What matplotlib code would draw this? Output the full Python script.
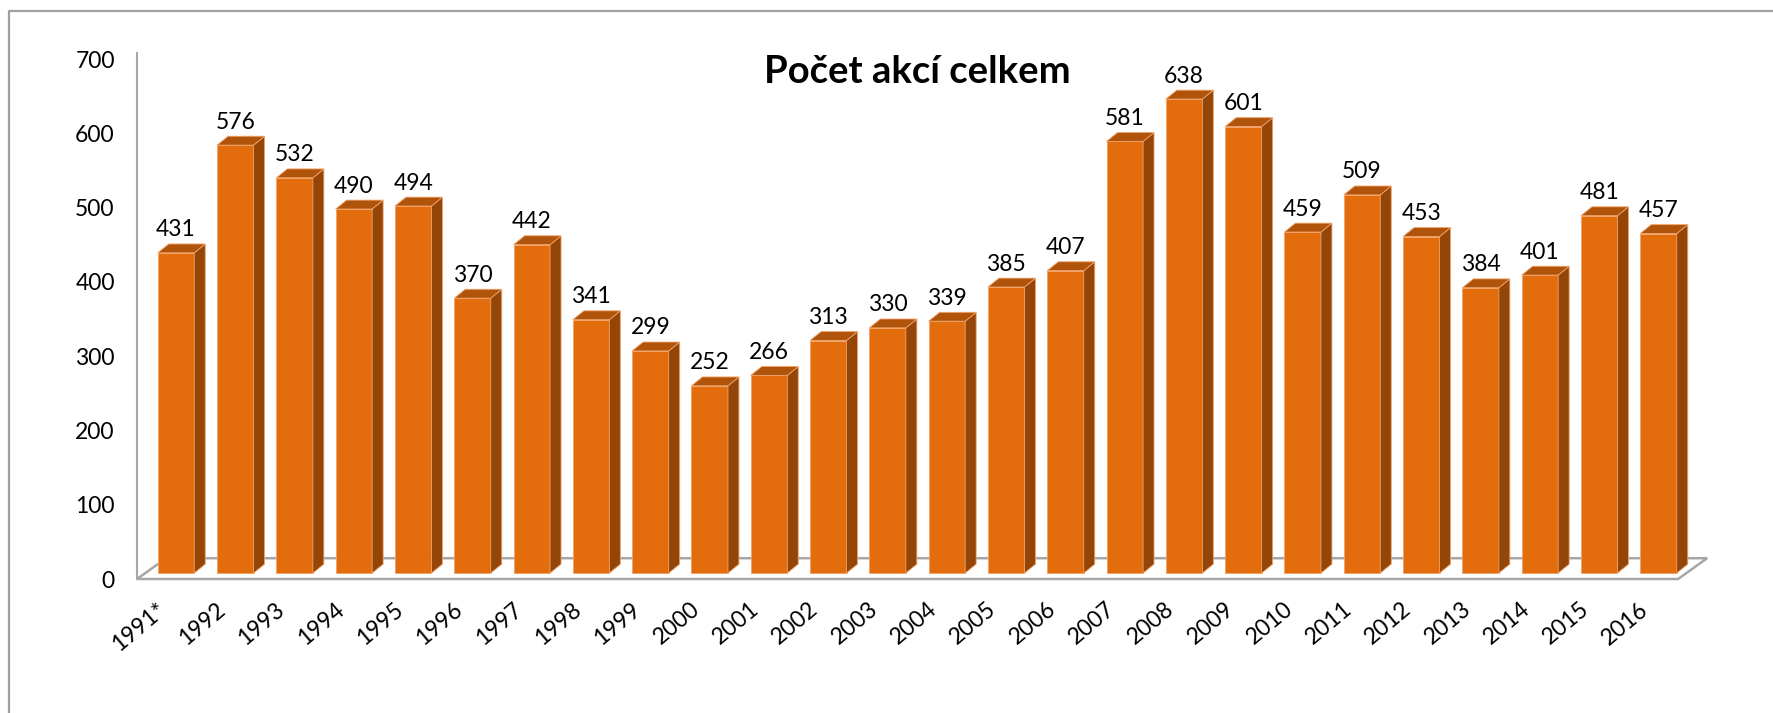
import matplotlib.pyplot as plt
from matplotlib.patches import Polygon
from matplotlib.lines import Line2D
from matplotlib.transforms import ScaledTranslation

plt.rcParams['font.family'] = ['Lato', 'DejaVu Sans']

years = ['1991*', '1992', '1993', '1994', '1995', '1996', '1997', '1998', '1999',
         '2000', '2001', '2002', '2003', '2004', '2005', '2006', '2007', '2008',
         '2009', '2010', '2011', '2012', '2013', '2014', '2015', '2016']
counts = [431, 576, 532, 490, 494, 370, 442, 341, 299, 252, 266, 313, 330,
          339, 385, 407, 581, 638, 601, 459, 509, 453, 384, 401, 481, 457]
yticks = [0, 100, 200, 300, 400, 500, 600, 700]

W, H = 1774, 713
fig = plt.figure(figsize=(W / 100, H / 100), dpi=100)

# pixel layout of the plot area
px_x, px_y = 59.3, 0.752      # pixels per category / per unit
x0_px, base_px = 176, 573     # centre of first bar, bar base (from top)
left_px, right_px = 137, 1707
top_px, bot_px = 53, 579

ax = fig.add_axes([left_px / W, (H - bot_px) / H,
                   (right_px - left_px) / W, (bot_px - top_px) / H])
ax.set_xlim((left_px - x0_px) / px_x, (right_px - x0_px) / px_x)
ax.set_ylim((base_px - bot_px) / px_y, (base_px - top_px) / px_y)

front_c, side_c, top_c = '#E36C0C', '#944508', '#B0540C'
edge_c = '#F3A266'
grid_c = '#A6A6A6'

n = len(years)
xs = list(range(n))
w = 36.5 / px_x
dx, dy = 11 / px_x, 9 / px_y

# floor
y_front = ax.get_ylim()[0]
y_back = 20
fx0 = ax.get_xlim()[0]
fx1 = n - 1 + 0.33
fdx = 0.49
floor = Polygon([(fx0, y_front), (fx1, y_front), (fx1 + fdx, y_back), (fx0 + fdx, y_back)],
                closed=True, facecolor='white', edgecolor=grid_c, lw=1.8,
                clip_on=False, zorder=1)
ax.add_patch(floor)

# bars
ax.bar(xs, counts, width=w, color=front_c, edgecolor=edge_c, linewidth=0.6, zorder=3)
for x, v in zip(xs, counts):
    r = x + w / 2
    l = x - w / 2
    ax.add_patch(Polygon([(r, 0), (r + dx, dy), (r + dx, v + dy), (r, v)], closed=True,
                         facecolor=side_c, edgecolor=edge_c, lw=0.6, clip_on=False, zorder=3))
    ax.add_patch(Polygon([(l, v), (r, v), (r + dx, v + dy), (l + dx, v + dy)], closed=True,
                         facecolor=top_c, edgecolor=edge_c, lw=0.6, clip_on=False, zorder=3))
    ax.annotate(str(v), (x, v), xytext=(0, 9), textcoords='offset points',
                ha='center', va='bottom', fontsize=16.5, color='black', zorder=4)

for s in ['top', 'right', 'bottom']:
    ax.spines[s].set_visible(False)
ax.spines['left'].set_color(grid_c)
ax.spines['left'].set_linewidth(1.5)
ax.patch.set_visible(False)

ax.set_yticks(yticks)
ax.set_yticklabels([str(t) for t in yticks])
ax.tick_params(axis='y', length=0, pad=16, labelsize=16.5)
for lab in ax.get_yticklabels():
    lab.set_transform(lab.get_transform() + ScaledTranslation(0, -0.06, fig.dpi_scale_trans))

ax.set_xticks(xs)
ax.set_xticklabels(years, rotation=40, ha='right', va='top')
ax.tick_params(axis='x', length=0, pad=14, labelsize=16.5)
for lab in ax.get_xticklabels():
    lab.set_transform(lab.get_transform() + ScaledTranslation(-0.06, 0, fig.dpi_scale_trans))

fig.text(917 / W, 1 - 72 / H, 'Počet akcí celkem', ha='center', va='center',
         fontsize=27.5, fontweight='bold')

# outer chart border (cut at right and bottom)
fig.add_artist(Line2D([9 / W, 9 / W, 1], [0, 1 - 10.5 / H, 1 - 10.5 / H],
                      transform=fig.transFigure, color='#A0A0A0', lw=1.6))

fig.savefig('out.png', dpi=100)
